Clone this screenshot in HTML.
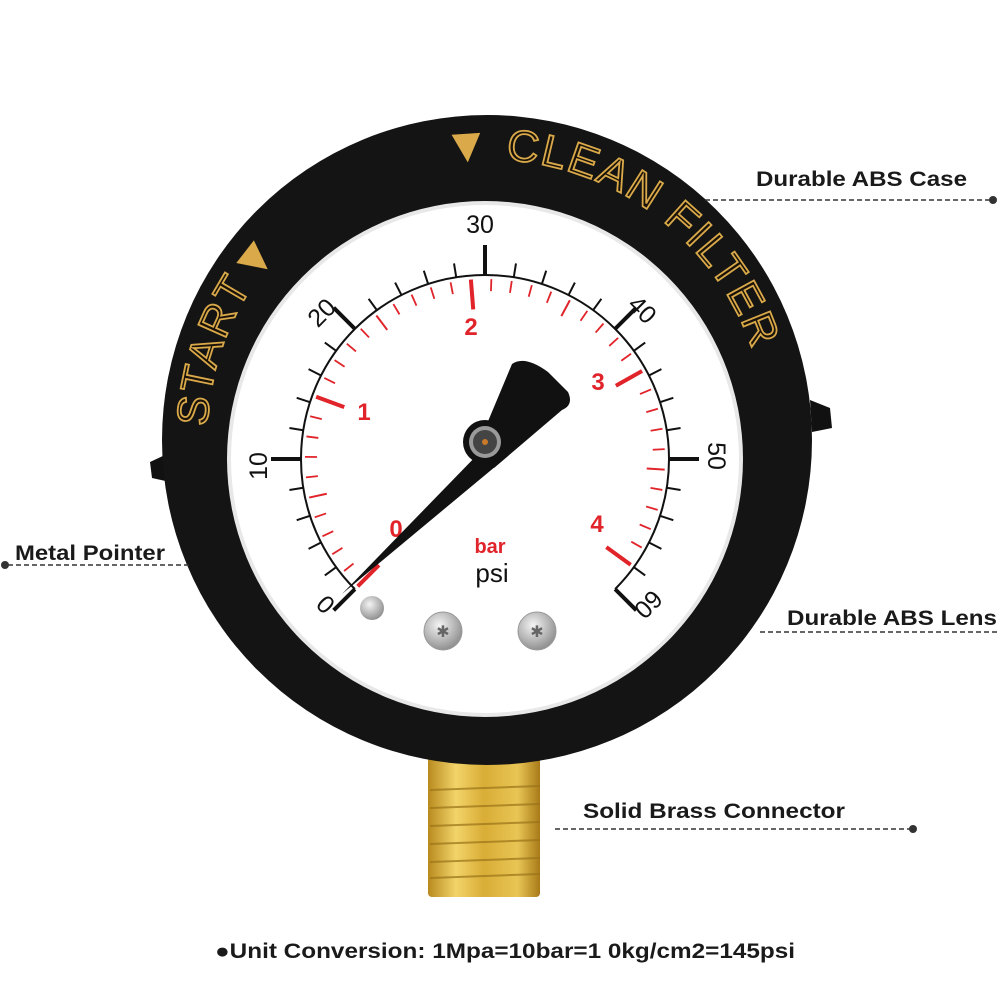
<!DOCTYPE html>
<html><head><meta charset="utf-8"><style>
html,body{margin:0;padding:0;background:#fff;}
svg{display:block;}
.lbl{font-family:"Liberation Sans",Arial,sans-serif;font-weight:bold;font-size:21px;fill:#1a1a1a;}
.dl{stroke:#333;stroke-width:1.5;stroke-dasharray:5 3;}
.num{font-family:"Liberation Sans",sans-serif;font-size:25px;fill:#111;text-anchor:middle;}
.rn{font-family:"Liberation Sans",sans-serif;font-weight:bold;font-size:24px;fill:#e0242a;text-anchor:middle;}
.gold{font-family:"Liberation Sans",sans-serif;font-size:44px;fill:#1a1208;stroke:#d9a94a;stroke-width:1.8;letter-spacing:2px;}
</style></head><body>
<svg width="1000" height="1000" viewBox="0 0 1000 1000" xmlns="http://www.w3.org/2000/svg">
<defs>
<linearGradient id="brass" x1="0" x2="1">
<stop offset="0" stop-color="#b88a1e"/><stop offset="0.25" stop-color="#f2d46a"/><stop offset="0.5" stop-color="#d9ad36"/><stop offset="0.8" stop-color="#e8c555"/><stop offset="1" stop-color="#a87a18"/>
</linearGradient>
<radialGradient id="screw" cx="0.4" cy="0.35" r="0.7"><stop offset="0" stop-color="#f4f4f4"/><stop offset="1" stop-color="#8a8a8a"/></radialGradient>
<path id="ring" d="M245,580 A280,280 0 1 1 729,580"/>
</defs>

<rect x="428" y="750" width="112" height="147" rx="4" fill="url(#brass)"/>
<g stroke="#9a7318" stroke-width="2" opacity="0.7">
<line x1="430" y1="790" x2="540" y2="786"/><line x1="430" y1="808" x2="540" y2="804"/>
<line x1="430" y1="826" x2="540" y2="822"/><line x1="430" y1="844" x2="540" y2="840"/>
<line x1="430" y1="862" x2="540" y2="858"/><line x1="430" y1="878" x2="540" y2="874"/>
</g>

<path d="M165,455 L150,462 L152,478 L170,482 Z" fill="#111"/>
<path d="M810,400 L830,408 L832,428 L812,432 Z" fill="#111"/>
<circle cx="487" cy="440" r="325" fill="#141414"/>
<circle cx="485" cy="459" r="258" fill="#e8e8e8"/>
<circle cx="485" cy="459" r="254" fill="#fff"/>

<text class="gold"><textPath href="#ring" startOffset="160">START<tspan fill="#d9a94a">▼</tspan></textPath></text>
<text class="gold"><textPath href="#ring" startOffset="546"><tspan fill="#d9a94a">▼</tspan> CLEAN FILTER</textPath></text>

<g id="ticks"></g>

<g class="num">
<text x="0" y="0" transform="translate(326,604) rotate(-135)" dy="8">0</text>
<text x="0" y="0" transform="translate(259,466) rotate(-90)" dy="8">10</text>
<text x="0" y="0" transform="translate(322,313) rotate(-45)" dy="8">20</text>
<text x="0" y="0" transform="translate(480,225)" dy="8">30</text>
<text x="0" y="0" transform="translate(642,310) rotate(45)" dy="8">40</text>
<text x="0" y="0" transform="translate(716,456) rotate(90)" dy="8">50</text>
<text x="0" y="0" transform="translate(648,604) rotate(135)" dy="8">60</text>
</g>
<g class="rn">
<text x="396" y="537">0</text>
<text x="364" y="420">1</text>
<text x="471" y="335">2</text>
<text x="598" y="390">3</text>
<text x="597" y="532">4</text>
<text x="490" y="553" font-size="20">bar</text>
</g>
<text x="492" y="582" font-family="Liberation Sans,sans-serif" font-size="26" fill="#111" text-anchor="middle">psi</text>

<circle cx="372" cy="608" r="12" fill="url(#screw)"/>
<circle cx="443" cy="631" r="19" fill="url(#screw)" stroke="#999"/>
<circle cx="537" cy="631" r="19" fill="url(#screw)" stroke="#999"/>
<text x="443" y="637" font-size="16" text-anchor="middle" fill="#666">✱</text>
<text x="537" y="637" font-size="16" text-anchor="middle" fill="#666">✱</text>

<path d="M342,594 L480,452 L496,466 Z" fill="#111"/>
<path d="M476,450 L512,364 Q525,355 548,372 L568,392 Q574,405 562,410 L494,468 Z" fill="#111"/>
<circle cx="485" cy="442" r="22" fill="#111"/>
<circle cx="485" cy="442" r="16" fill="#9a9a9a"/>
<circle cx="485" cy="442" r="12" fill="#444"/>
<circle cx="485" cy="442" r="3" fill="#c87a2a"/>

<text class="lbl" x="756" y="186" textLength="211" lengthAdjust="spacingAndGlyphs">Durable ABS Case</text>
<line class="dl" x1="705" y1="200" x2="990" y2="200"/><circle cx="993" cy="200" r="4" fill="#333"/>
<text class="lbl" x="15" y="560" textLength="150" lengthAdjust="spacingAndGlyphs">Metal Pointer</text>
<line class="dl" x1="8" y1="565" x2="192" y2="565"/><circle cx="5" cy="565" r="4" fill="#333"/>
<text class="lbl" x="787" y="625" textLength="210" lengthAdjust="spacingAndGlyphs">Durable ABS Lens</text>
<line class="dl" x1="760" y1="632" x2="1000" y2="632"/>
<text class="lbl" x="583" y="818" textLength="262" lengthAdjust="spacingAndGlyphs">Solid Brass Connector</text>
<line class="dl" x1="555" y1="829" x2="910" y2="829"/><circle cx="913" cy="829" r="4" fill="#333"/>
<text class="lbl" x="215" y="958" textLength="580" lengthAdjust="spacingAndGlyphs">●Unit Conversion: 1Mpa=10bar=1 0kg/cm2=145psi</text>
</svg>
<script>
(function(){
var g=document.getElementById('ticks'),cx=485,cy=459,s='';
function L(a,r1,r2,c,w){var t=a*Math.PI/180,sn=Math.sin(t),cs=Math.cos(t);
s+='<line x1="'+(cx+r1*sn)+'" y1="'+(cy-r1*cs)+'" x2="'+(cx+r2*sn)+'" y2="'+(cy-r2*cs)+'" stroke="'+c+'" stroke-width="'+w+'"/>';}
var a0=-135*Math.PI/180,a1=135*Math.PI/180,R=184;
s+='<path d="M'+(cx+R*Math.sin(a0))+','+(cy-R*Math.cos(a0))+' A'+R+','+R+' 0 1 1 '+(cx+R*Math.sin(a1))+','+(cy-R*Math.cos(a1))+'" fill="none" stroke="#111" stroke-width="2"/>';
for(var p=0;p<=60;p+=2){var a=-135+4.5*p;if(p%10==0)L(a,184,214,'#111',4);else L(a,184,198,'#111',2);}
for(var b=0;b<=40;b++){var a=-135+4.5*14.5*b/10;if(b%10==0)L(a,180,150,'#e0242a',4);else if(b%5==0)L(a,180,162,'#e0242a',2);else L(a,180,168,'#e0242a',1.8);}
g.innerHTML=s;
})();
</script>
</body></html>
